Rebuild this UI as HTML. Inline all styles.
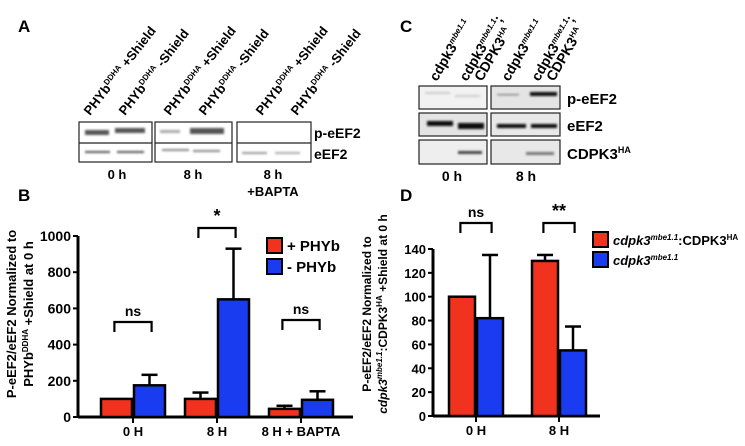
<!DOCTYPE html>
<html><head><meta charset="utf-8"><style>
body{margin:0;background:#fff}
svg{display:block;font-family:"Liberation Sans",Arial,sans-serif;font-weight:bold}
</style></head><body>
<svg id="fig" width="745" height="446" viewBox="0 0 745 446">
<defs><filter id="bl" x="-20%" y="-50%" width="140%" height="200%"><feGaussianBlur stdDeviation="1"/></filter></defs>
<!-- Panel A -->
<text x="18" y="32" font-size="17">A</text>
<g font-size="13">
<text transform="translate(90,116) rotate(-52)">PHYb<tspan font-size="8" dy="-5">DDHA</tspan><tspan dy="5"> +Shield</tspan></text>
<text transform="translate(125,116) rotate(-52)">PHYb<tspan font-size="8" dy="-5">DDHA</tspan><tspan dy="5"> -Shield</tspan></text>
<text transform="translate(170,116) rotate(-52)">PHYb<tspan font-size="8" dy="-5">DDHA</tspan><tspan dy="5"> +Shield</tspan></text>
<text transform="translate(205,116) rotate(-52)">PHYb<tspan font-size="8" dy="-5">DDHA</tspan><tspan dy="5"> -Shield</tspan></text>
<text transform="translate(262,116) rotate(-52)">PHYb<tspan font-size="8" dy="-5">DDHA</tspan><tspan dy="5"> +Shield</tspan></text>
<text transform="translate(297,116) rotate(-52)">PHYb<tspan font-size="8" dy="-5">DDHA</tspan><tspan dy="5"> -Shield</tspan></text>
</g>
<g>
<g fill="#555" filter="url(#bl)">
<rect x="85" y="130" width="24" height="5"/><rect x="115" y="128" width="30" height="5"/>
<rect x="160" y="130" width="20" height="3" fill="#aaa"/><rect x="190" y="128" width="34" height="6"/>
<rect x="85" y="151" width="25" height="2"/><rect x="117" y="151" width="27" height="2"/>
<rect x="162" y="149" width="27" height="2" fill="#888"/><rect x="193" y="150" width="27" height="2" fill="#888"/>
<rect x="242" y="152" width="25" height="2" fill="#999"/><rect x="275" y="152" width="25" height="2" fill="#aaa"/>
</g>
<g fill="none" stroke="#222" stroke-width="1.2">
<rect x="79" y="122" width="73" height="40"/><line x1="79" y1="143" x2="152" y2="143"/>
<rect x="155" y="122" width="77" height="40"/><line x1="155" y1="143" x2="232" y2="143"/>
<rect x="237" y="122" width="74" height="40"/><line x1="237" y1="143" x2="311" y2="143"/>
</g></g>
<text x="314" y="138" font-size="14">p-eEF2</text>
<text x="314" y="159" font-size="14">eEF2</text>
<g font-size="13" text-anchor="middle">
<text x="117" y="179">0 h</text><text x="193" y="179">8 h</text><text x="273" y="179">8 h</text><text x="273" y="196">+BAPTA</text></g>
<!-- Panel C -->
<text x="400" y="32" font-size="17">C</text>
<g font-size="14">
<text transform="translate(437,82) rotate(-60)">cdpk3<tspan font-size="8" dy="-5" font-style="italic">mbe1.1</tspan></text>
<text transform="translate(467,82) rotate(-60)">cdpk3<tspan font-size="8" dy="-5" font-style="italic">mbe1.1</tspan><tspan dy="5">;</tspan></text>
<text transform="translate(482,82) rotate(-60)">CDPK3<tspan font-size="8" dy="-5">HA</tspan></text>
<text transform="translate(509,82) rotate(-60)">cdpk3<tspan font-size="8" dy="-5" font-style="italic">mbe1.1</tspan></text>
<text transform="translate(539,82) rotate(-60)">cdpk3<tspan font-size="8" dy="-5" font-style="italic">mbe1.1</tspan><tspan dy="5">;</tspan></text>
<text transform="translate(554,82) rotate(-60)">CDPK3<tspan font-size="8" dy="-5">HA</tspan></text>
</g>
<g>
<rect x="419" y="86" width="68" height="23" fill="#f2f2f2"/><rect x="491" y="86" width="69" height="23" fill="#e4e4e4"/>
<rect x="419" y="113" width="68" height="23" fill="#e4e4e4"/><rect x="491" y="113" width="69" height="23" fill="#e8e8e8"/>
<rect x="419" y="140" width="68" height="24" fill="#eee"/><rect x="491" y="140" width="69" height="24" fill="#e8e8e8"/>
<g fill="#111" filter="url(#bl)">
<rect x="427" y="121" width="26" height="5"/><rect x="458" y="123" width="26" height="6"/>
<rect x="497" y="124" width="29" height="4"/><rect x="531" y="124" width="26" height="4"/>
<rect x="530" y="92" width="27" height="4"/><rect x="497" y="94" width="22" height="1.5" fill="#888"/>
<rect x="458" y="151" width="24" height="3" fill="#444"/><rect x="526" y="152" width="28" height="3" fill="#777"/>
<rect x="455" y="95" width="25" height="2" fill="#ccc"/><rect x="425" y="92" width="25" height="2" fill="#ccc"/>
</g>
<g fill="none" stroke="#222" stroke-width="1.2">
<rect x="419" y="86" width="68" height="23"/><rect x="491" y="86" width="69" height="23"/>
<rect x="419" y="113" width="68" height="23"/><rect x="491" y="113" width="69" height="23"/>
<rect x="419" y="140" width="68" height="24"/><rect x="491" y="140" width="69" height="24"/>
</g></g>
<g font-size="15">
<text x="567" y="104">p-eEF2</text><text x="567" y="131">eEF2</text><text x="567" y="159">CDPK3<tspan font-size="9" dy="-6">HA</tspan></text></g>
<g font-size="14" text-anchor="middle">
<text x="452" y="181">0 h</text><text x="526" y="181">8 h</text></g>
<!-- Panel labels B, D -->
<text x="18" y="201" font-size="17">B</text>
<text x="400" y="201" font-size="17">D</text>
<text transform="translate(16,314) rotate(-90)" font-size="13" text-anchor="middle">P-eEF2/eEF2 Normalized to</text>
<text transform="translate(33,314) rotate(-90)" font-size="13" text-anchor="middle">PHYb<tspan font-size="8" dy="-5">DDHA</tspan><tspan dy="5"> +Shield at 0 h</tspan></text>
<text transform="translate(371,314) rotate(-90)" font-size="12" text-anchor="middle">P-eEF2/eEF2 Normalized to</text>
<text transform="translate(387,314) rotate(-90)" font-size="12" text-anchor="middle"><tspan font-style="italic">cdpk3</tspan><tspan font-size="8" dy="-5" font-style="italic">mbe1.1</tspan><tspan dy="5">:CDPK3</tspan><tspan font-size="8" dy="-5">HA</tspan><tspan dy="5"> +Shield at 0 h</tspan></text>
<g id="chartB"></g><g id="chartD"></g>
</svg>
<script>
const bCategories=["0 H","8 H","8 H + BAPTA"];
const bRed=[100,100,45];
const bRedErr=[0,35,17];
const bBlue=[175,650,95];
const bBlueErr=[58,280,47];
const bTicks=[0,200,400,600,800,1000];
const bSig=["ns","*","ns"];
const dCategories=["0 H","8 H"];
const dRed=[100,130];
const dRedErr=[0,5];
const dBlue=[82,55];
const dBlueErr=[53,20];
const dTicks=[0,20,40,60,80,100,120,140];
const dSig=["ns","**"];

const NS="http://www.w3.org/2000/svg";
function mk(p,t,a){const e=document.createElementNS(NS,t);for(const k in a)e.setAttribute(k,a[k]);p.appendChild(e);return e;}

function drawChart(g,o){
  const y=v=>o.y0-(v/o.max)*(o.y0-o.yTop);
  const x=i=>o.x0+o.first+i*o.step;
  const ax=mk(g,'line',{x1:o.x0,y1:o.y0,x2:o.x0,y2:o.yTop,stroke:'#000','stroke-width':3});
  
  
  const xa=mk(g,'line',{x1:o.x0,y1:o.y0,x2:o.xEnd,y2:o.y0,stroke:'#000','stroke-width':3});
  
  
  o.ticks.forEach(t=>{
    const l=mk(g,'line',{x1:o.x0-5,x2:o.x0,y1:y(t),y2:y(t),stroke:'#000','stroke-width':2});
    
    
    const tx=mk(g,'text',{x:o.x0-7,y:y(t)+5,'text-anchor':'end','font-size':o.fs});
    tx.textContent=t;
    
    
  });
  o.cats.forEach((c,i)=>{
    const cx=x(i);
    const tk=mk(g,'line',{x1:cx,x2:cx,y1:o.y0,y2:o.y0+6,stroke:'#000','stroke-width':2});
    
    
    const tl=mk(g,'text',{x:cx,y:o.y0+19,'text-anchor':'middle','font-size':13});
    tl.textContent=c;
    
    
    [[o.red,o.redErr,'#f0321e',-o.bw-1,'red'],[o.blue,o.blueErr,'#1a3cf0',1,'blue']].forEach(s=>{
      const v=s[0][i],e=s[1][i],bx=cx+s[3];
      if(e>0){
        const el=mk(g,'line',{x1:bx+o.bw/2,x2:bx+o.bw/2,y1:y(v),y2:y(v+e),stroke:'#000','stroke-width':2.5});
        
        
        const cap=mk(g,'line',{x1:bx+o.bw/2-8,x2:bx+o.bw/2+8,y1:y(v+e),y2:y(v+e),stroke:'#000','stroke-width':2.5});
        
        
      }
      const r=mk(g,'rect',{x:bx,y:y(v),width:o.bw,height:o.y0-y(v),fill:s[2],stroke:'#000','stroke-width':2.5});
      
      
    });
    const by=o.sigY[i],hw=o.bw*0.6;
    const br=mk(g,'path',{d:`M${cx-hw} ${by+10}V${by}H${cx+hw}V${by+10}`,fill:'none',stroke:'#000','stroke-width':2.2});
    
    
    const st=mk(g,'text',{x:cx,y:by-6,'text-anchor':'middle','font-size':o.sig[i]=='ns'?14:18});
    st.textContent=o.sig[i];
    
    
  });
}
const gB=document.getElementById('chartB');


drawChart(gB,{x0:78,y0:417,yTop:236,xEnd:353,max:1000,first:55,step:84,bw:31,fs:14,
 cats:bCategories,red:bRed,redErr:bRedErr,blue:bBlue,blueErr:bBlueErr,ticks:bTicks,sig:bSig,sigY:[322,228,320]});
const gD=document.getElementById('chartD');


drawChart(gD,{x0:433,y0:416,yTop:249,xEnd:600,max:140,first:43,step:83,bw:26,fs:13,
 cats:dCategories,red:dRed,redErr:dRedErr,blue:dBlue,blueErr:dBlueErr,ticks:dTicks,sig:dSig,sigY:[223,223]});

function legend(g,x,y,col,lbl,name,fs){
  const r=mk(g,'rect',{x:x,y:y,width:15,height:15,fill:col,stroke:'#000','stroke-width':2});
  
  
  const t=mk(g,'text',{x:x+20,y:y+13,'font-size':fs});
  t.innerHTML=lbl;
  
  
}
legend(gB,267,238,'#f0321e','+ PHYb','legend-entry-plus-phyb',15);
legend(gB,267,259,'#1a3cf0','- PHYb','legend-entry-minus-phyb',15);
legend(gD,593,232,'#f0321e','<tspan font-style="italic">cdpk3</tspan><tspan font-style="italic" font-size="8" dy="-5">mbe1.1</tspan><tspan dy="5">:CDPK3</tspan><tspan font-size="8" dy="-5">HA</tspan>','legend-entry-complemented',13);
legend(gD,593,252,'#1a3cf0','<tspan font-style="italic">cdpk3</tspan><tspan font-style="italic" font-size="8" dy="-5">mbe1.1</tspan>','legend-entry-mutant',13);
</script>
</body></html>
